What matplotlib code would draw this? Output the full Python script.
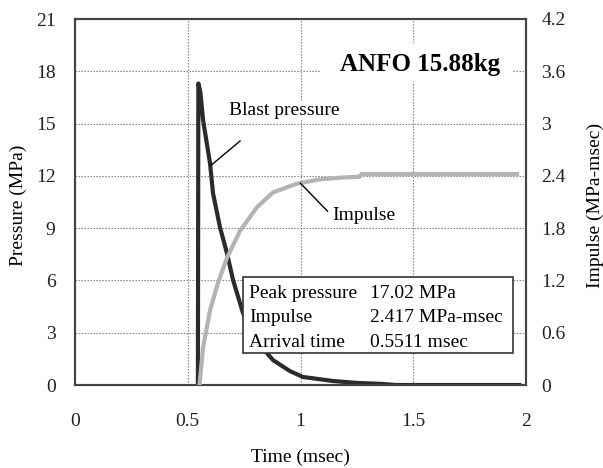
import matplotlib
matplotlib.use("Agg")
import matplotlib.pyplot as plt
from matplotlib.patches import Rectangle

plt.rcParams['font.family'] = ['Liberation Serif', 'DejaVu Serif']

# pressure trace (msec, MPa)
time_p = [0.545, 0.547, 0.556, 0.568, 0.599, 0.612, 0.643, 0.674, 0.701, 0.745,
          0.81, 0.878, 0.953, 1.011, 1.144, 1.25, 1.366, 1.42, 1.97]
pressure = [0.0, 17.3, 16.8, 15.2, 12.7, 11.0, 9.05, 7.56, 6.02, 4.13,
            2.45, 1.43, 0.8, 0.46, 0.23, 0.12, 0.06, 0.0, 0.0]

# impulse trace (msec, MPa-msec)
time_i = [0.552, 0.568, 0.599, 0.634, 0.674, 0.732, 0.807, 0.878, 0.984,
          1.086, 1.18, 1.264, 1.27, 1.96]
impulse = [0.0, 0.43, 0.86, 1.17, 1.46, 1.77, 2.04, 2.21, 2.31,
           2.36, 2.38, 2.39, 2.42, 2.42]

p_ticks = [0, 3, 6, 9, 12, 15, 18, 21]
i_ticks = [0, 0.6, 1.2, 1.8, 2.4, 3, 3.6, 4.2]
t_ticks = [0, 0.5, 1, 1.5, 2]

summary_names = ["Peak pressure", "Impulse", "Arrival time"]
summary_values = ["17.02 MPa", "2.417 MPa-msec", "0.5511 msec"]

fig = plt.figure(figsize=(6.03, 4.68), dpi=100)
ax = fig.add_axes([75/603, 1-385/468, 451/603, 366/468])
ax2 = ax.twinx()

ax.plot(time_p, pressure, color="#2b2b2b", lw=3.0, zorder=3)
ax2.plot(time_i, impulse, color="#b3b3b3", lw=3.0, zorder=3)

ax.set_xlim(0, 2)
ax.set_ylim(0, 21)
ax2.set_ylim(0, 4.2)
ax.set_xticks(t_ticks)
ax.set_xticklabels(["%g" % t for t in t_ticks])
ax.set_yticks(p_ticks)
ax2.set_yticks(i_ticks)
ax2.set_yticklabels(["%g" % v for v in i_ticks])

ax.grid(True, linestyle=(0, (1.2, 1.5)), color="#777777", lw=0.8)
ax.set_axisbelow(True)
for a in (ax, ax2):
    for s in a.spines.values():
        s.set_color("#444444")
        s.set_linewidth(1.5)
ax.tick_params(axis="x", length=0, pad=20, labelsize=14, colors="#222222")
ax.tick_params(axis="y", length=0, pad=14, labelsize=14, colors="#222222")
ax2.tick_params(axis="y", length=0, pad=11, labelsize=14, colors="#222222")

fig.text(0.5*(75+526)/603, 1-457/468, "Time (msec)", ha="center", va="center", fontsize=14)
fig.text(18/603, 1-205/468, "Pressure (MPa)", ha="center", va="center", rotation=90, fontsize=14)
fig.text(595/603, 1-205/468, "Impulse (MPa-msec)", ha="center", va="center", rotation=90, fontsize=14)

# ANFO label with a white background
ax2.add_patch(Rectangle((1.087, 17.36), 0.855, 2.24, transform=ax.transData,
                        facecolor="white", edgecolor="none", zorder=4))
ax2.text(1.885, 18.4, "ANFO 15.88kg", transform=ax.transData, ha="right", va="center",
         fontsize=18, fontweight="bold", zorder=5)

# annotations
ax2.text(0.685, 15.75, "Blast pressure", transform=ax.transData, ha="left", va="center",
         fontsize=14, zorder=5, bbox=dict(facecolor="white", edgecolor="none", pad=1))
ax2.plot([0.603, 0.732], [12.6, 14.0], transform=ax.transData, color="black", lw=1, zorder=5)
ax2.text(1.14, 9.74, "Impulse", transform=ax.transData, ha="left", va="center", fontsize=14, zorder=5)
ax2.plot([1.0, 1.12], [11.57, 9.97], transform=ax.transData, color="black", lw=1, zorder=5)

# summary box
ax2.add_patch(Rectangle((0.745, 1.83), 1.197, 4.36, transform=ax.transData,
                        facecolor="white", edgecolor="#333333", lw=1.2, zorder=6))
rows_y = [5.27, 3.90, 2.46]
for name, val, y in zip(summary_names, summary_values, rows_y):
    ax2.text(0.772, y, name, transform=ax.transData, ha="left", va="center", fontsize=14, zorder=7)
    ax2.text(1.308, y, val, transform=ax.transData, ha="left", va="center", fontsize=14, zorder=7)

fig.savefig("out.png", dpi=100)
